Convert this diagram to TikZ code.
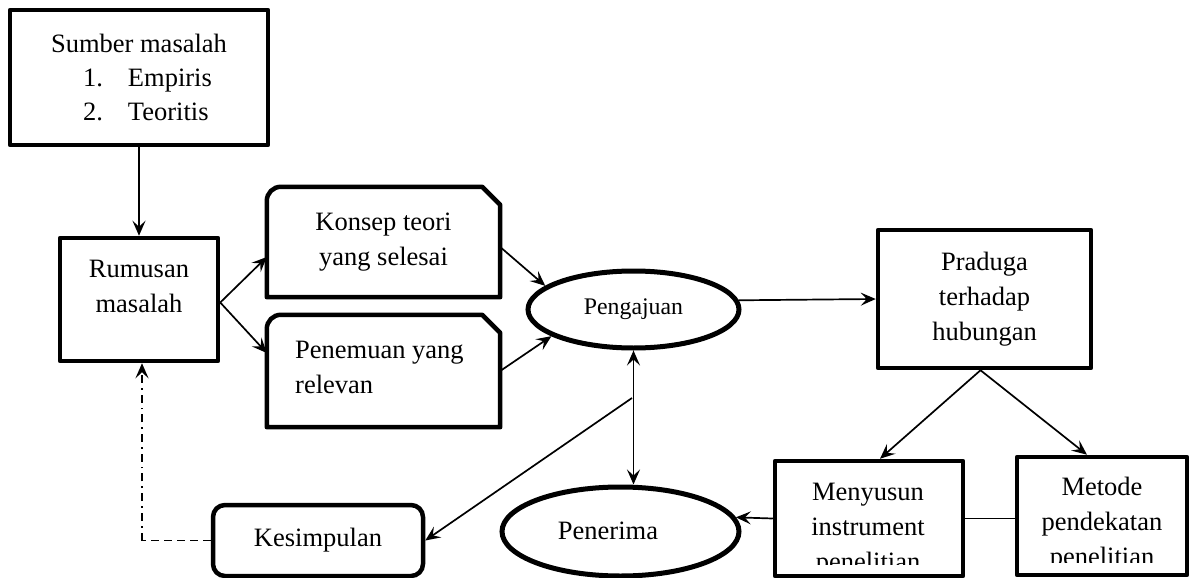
\documentclass[tikz,border=0pt]{standalone}
\usepackage{fontspec}
\setmainfont{Liberation Serif}
\usetikzlibrary{arrows.meta,shapes.geometric,calc}
\tikzset{
  arr/.tip={Stealth[length=15pt,width=13pt,inset=6pt]},
  box/.style={draw, line width=4.5pt, line join=round, rectangle, inner sep=0pt},
  shell/.style={rectangle, inner sep=0pt},
  outline/.style={draw, line width=4.5pt, line join=round},
  oval/.style={draw, ellipse, line width=5pt, inner sep=0pt},
  txt/.style={font=\fontsize{26.5}{35}\selectfont, align=center, inner sep=0pt},
  conn/.style={line width=1.7pt},
  dashline/.style={line width=1.7pt, dash pattern=on 8pt off 5pt},
  dashdotline/.style={line width=1.7pt, dash pattern=on 8pt off 5pt on 1.7pt off 5pt},
}
\begin{document}
\begin{tikzpicture}[x=1pt,y=-1pt]
\useasboundingbox (0,0) rectangle (1189,578);

% Sumber masalah
\node[box, txt, font=\fontsize{26.5}{34}\selectfont, minimum width=258pt, minimum height=135pt] (sumber) at (139,77.5)
  {Sumber masalah\\
   \makebox[112pt][l]{\makebox[45pt][l]{1.}Empiris}\\
   \makebox[112pt][l]{\makebox[45pt][l]{2.}Teoritis}};

% Rumusan masalah
\node[box, minimum width=158pt, minimum height=123pt] (rum) at (139,299.5) {};
\node[txt] (rumT) at (139,286) {Rumusan\\masalah};

% Konsep teori (round + snipped corners)
\node[shell, txt, minimum width=233pt, minimum height=110pt] (kon) at (383.5,242) {Konsep teori\\yang selesai};
\draw[outline] (kon.south west) -- ([yshift=-14pt]kon.north west)
  arc[start angle=180,end angle=90,radius=14pt]
  -- ([xshift=-18pt]kon.north east) -- ([yshift=-18pt]kon.north east)
  -- (kon.south east) -- cycle;

% Penemuan yang relevan
\node[shell, minimum width=233pt, minimum height=112pt] (pen) at (383.5,371) {};
\draw[outline] (pen.south west) -- ([yshift=-14pt]pen.north west)
  arc[start angle=180,end angle=90,radius=14pt]
  -- ([xshift=-18pt]pen.north east) -- ([yshift=-18pt]pen.north east)
  -- (pen.south east) -- cycle;
\node[txt, align=left, anchor=west] (penT) at (295,367) {Penemuan yang\\relevan};

% Pengajuan
\node[oval, minimum width=211pt, minimum height=77pt, font=\fontsize{23.8}{28}\selectfont] (peng) at (633.5,309.5) {Pengajuan};

% Praduga
\node[box, txt, minimum width=213pt, minimum height=138pt] (prad) at (984.5,299) {Praduga\\terhadap\\hubungan};

% Menyusun instrument
\node[box, minimum width=188pt, minimum height=115pt] (meny) at (869,518.5) {};
\begin{scope}
  \clip (775,461) rectangle (963,564);
  \node[txt] (menyT) at (868,530) {Menyusun\\instrument\\penelitian};
\end{scope}

% Metode
\node[box, minimum width=170pt, minimum height=118pt] (met) at (1102,516) {};
\begin{scope}
  \clip (1017,457) rectangle (1187,562);
  \node[txt] (metT) at (1102,524) {Metode\\pendekatan\\penelitian};
\end{scope}

% Penerima
\node[oval, minimum width=237pt, minimum height=89pt] (pener) at (620.5,531.5) {};
\node[txt] (penerT) at (608,531) {Penerima};

% Kesimpulan
\node[box, txt, rounded corners=12pt, minimum width=210pt, minimum height=71pt] (kes) at (318,540.5) {Kesimpulan};

% connectors
\draw[conn, -arr] (sumber.south) -- (rum.north);
\draw[conn, -arr] ([yshift=-3pt]rum.east) -- ([yshift=-15pt]kon.west);
\draw[conn, -arr] ([yshift=-3pt]rum.east) -- ([yshift=18pt]pen.west);
\draw[conn, -arr] ([yshift=-5pt]kon.east) -- (peng.165);
\draw[conn, -arr] (pen.east) -- (peng.198);
\draw[conn, -arr] (peng.5) -- (prad.west);
\draw[conn, -arr] ([xshift=-4pt]prad.south) -- ([xshift=11pt]meny.north);
\draw[conn, -arr] ([xshift=-4pt]prad.south) -- ([xshift=-15pt]met.north);
\draw[conn] (meny.east) -- (meny.east -| met.west);
\draw[conn, -arr] (meny.west) -- (pener.7);
\draw[conn, arr-arr] (peng.south) -- (peng.south |- pener.north);
\coordinate (jn) at (632,398);
\draw[conn, -arr] (jn) -- (kes.east);
\coordinate (corner) at (142,540.5);
\draw[dashline] (kes.west) -- (corner);
\draw[dashdotline, -arr] (corner) -- (corner |- rum.south);
\end{tikzpicture}
\end{document}
